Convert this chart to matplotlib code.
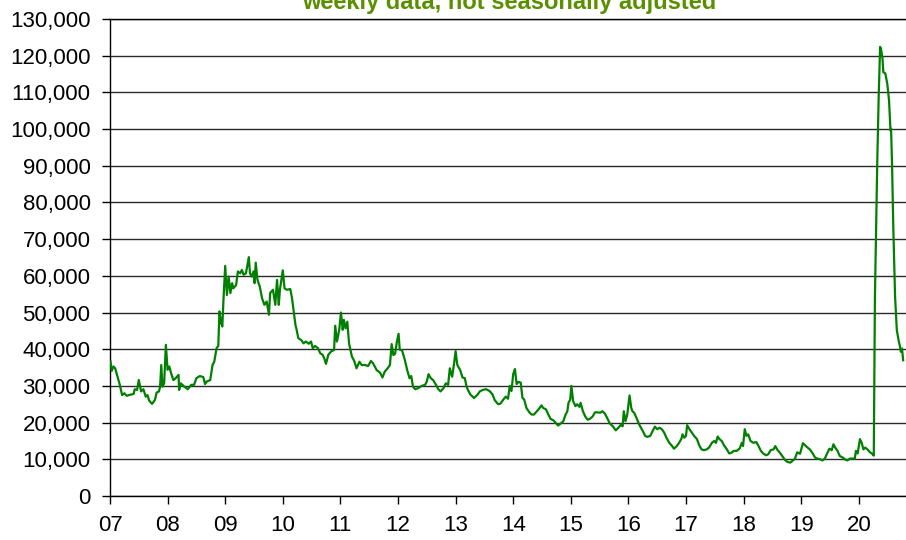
import matplotlib
matplotlib.use("Agg")
import matplotlib.pyplot as plt

rcParams = {'font.size': 16,
            'font.family': 'sans-serif',
            'font.sans-serif': ['Liberation Sans', 'DejaVu Sans'],
            'axes.unicode_minus': False,
            }

# position of each reading in decimal years, value in thousands of claims
weeks = [
    2007.01, 2007.03, 2007.06, 2007.09, 2007.13, 2007.17, 2007.21, 2007.25, 2007.29, 2007.35,
    2007.41, 2007.43, 2007.47, 2007.50, 2007.54, 2007.58, 2007.62, 2007.65, 2007.68, 2007.73,
    2007.78, 2007.81, 2007.85, 2007.87, 2007.89, 2007.91, 2007.94, 2007.97, 2008.00, 2008.03,
    2008.06, 2008.10, 2008.14, 2008.19, 2008.20, 2008.23, 2008.29, 2008.35, 2008.41, 2008.46,
    2008.50, 2008.56, 2008.62, 2008.65, 2008.68, 2008.74, 2008.78, 2008.81, 2008.85, 2008.88,
    2008.90, 2008.93, 2008.95, 2008.97, 2009.00,
    2009.03, 2009.06, 2009.09, 2009.12, 2009.14, 2009.19, 2009.22, 2009.26, 2009.29, 2009.32,
    2009.36, 2009.41, 2009.43, 2009.46, 2009.49, 2009.51, 2009.53, 2009.56, 2009.60, 2009.64,
    2009.68, 2009.72, 2009.76, 2009.78, 2009.83, 2009.87, 2009.90, 2009.93, 2009.95, 2010.00,
    2010.03, 2010.07, 2010.13, 2010.16, 2010.19, 2010.22, 2010.24, 2010.27, 2010.32, 2010.36,
    2010.40, 2010.45, 2010.49, 2010.52, 2010.56, 2010.61, 2010.65, 2010.69, 2010.72, 2010.75,
    2010.79, 2010.84, 2010.89, 2010.91, 2010.94, 2010.98, 2011.01, 2011.04, 2011.06, 2011.09,
    2011.12, 2011.15,
    2011.20, 2011.24, 2011.28, 2011.33, 2011.37, 2011.43, 2011.48, 2011.53, 2011.57, 2011.63,
    2011.69, 2011.73, 2011.77, 2011.82, 2011.86, 2011.89, 2011.92, 2011.95, 2011.98, 2012.01,
    2012.03, 2012.07, 2012.12, 2012.16, 2012.20, 2012.23, 2012.26, 2012.30, 2012.35, 2012.41,
    2012.47, 2012.50, 2012.53, 2012.57, 2012.61, 2012.66, 2012.70, 2012.74, 2012.79, 2012.83,
    2012.87, 2012.90, 2012.94, 2012.97, 2013.00, 2013.03, 2013.08, 2013.12, 2013.16, 2013.19,
    2013.22, 2013.26, 2013.32, 2013.38, 2013.42, 2013.47, 2013.53, 2013.59,
    2013.64, 2013.68, 2013.74, 2013.78, 2013.83, 2013.87, 2013.91, 2013.94, 2013.97, 2014.00,
    2014.03, 2014.06, 2014.09, 2014.13, 2014.16, 2014.19, 2014.23, 2014.28, 2014.32, 2014.36,
    2014.41, 2014.45, 2014.49, 2014.52, 2014.57, 2014.61, 2014.65, 2014.70, 2014.74, 2014.78,
    2014.82, 2014.87, 2014.91, 2014.94, 2014.96, 2014.99, 2015.01, 2015.04, 2015.08, 2015.11,
    2015.15, 2015.17, 2015.21, 2015.25, 2015.29, 2015.33, 2015.38, 2015.42, 2015.46, 2015.51,
    2015.55, 2015.59, 2015.63, 2015.68, 2015.73, 2015.78, 2015.82, 2015.87, 2015.90, 2015.92,
    2015.95, 2015.98, 2016.02, 2016.05, 2016.07, 2016.10, 2016.14, 2016.19,
    2016.25, 2016.29, 2016.33, 2016.38, 2016.42, 2016.46, 2016.50, 2016.54, 2016.58, 2016.62,
    2016.66, 2016.71, 2016.76, 2016.79, 2016.84, 2016.88, 2016.92, 2016.94, 2016.97, 2017.00,
    2017.02, 2017.06, 2017.10, 2017.14, 2017.19, 2017.23, 2017.27, 2017.31, 2017.36, 2017.40,
    2017.45, 2017.49, 2017.52, 2017.55, 2017.58, 2017.62, 2017.66, 2017.71, 2017.75, 2017.79,
    2017.83, 2017.88, 2017.93, 2017.97, 2017.99, 2018.02, 2018.05, 2018.08, 2018.12, 2018.17,
    2018.22, 2018.26, 2018.30, 2018.34, 2018.39, 2018.43, 2018.47, 2018.52, 2018.55, 2018.59,
    2018.63, 2018.68, 2018.72, 2018.76, 2018.81,
    2018.85, 2018.89, 2018.93, 2018.98, 2019.03, 2019.07, 2019.11, 2019.15, 2019.20, 2019.24,
    2019.28, 2019.33, 2019.37, 2019.41, 2019.45, 2019.49, 2019.53, 2019.56, 2019.59, 2019.63,
    2019.67, 2019.72, 2019.76, 2019.80, 2019.85, 2019.89, 2019.93, 2019.95, 2019.98, 2020.02,
    2020.05, 2020.08, 2020.11, 2020.15, 2020.19, 2020.24, 2020.26,
    2020.28, 2020.30, 2020.32, 2020.345, 2020.37, 2020.385, 2020.41, 2020.426, 2020.46, 2020.495,
    2020.525, 2020.55, 2020.56, 2020.577, 2020.60, 2020.63, 2020.66, 2020.69, 2020.715, 2020.73,
    2020.75, 2020.77,
]

claims_k = [
    36.6, 34.1, 35.3, 34.8, 32.5, 30.3, 27.5, 28.0, 27.3, 27.6,
    27.8, 29.1, 28.9, 31.6, 28.5, 29.1, 27.1, 27.5, 26.0, 25.1,
    26.2, 28.2, 28.5, 29.8, 35.7, 29.8, 30.7, 41.2, 34.4, 35.3,
    33.5, 31.6, 32.1, 33.0, 28.9, 30.7, 29.8, 29.1, 30.3, 30.3,
    32.1, 32.7, 32.4, 30.5, 31.2, 31.6, 35.7, 36.6, 40.3, 40.9,
    50.3, 47.1, 46.2, 53.5, 62.7,
    54.8, 59.8, 55.3, 58.0, 56.6, 57.5, 61.2, 60.7, 61.6, 60.3,
    60.7, 65.1, 60.7, 59.8, 61.2, 58.0, 63.6, 58.9, 57.1, 53.9,
    52.1, 53.0, 49.4, 55.3, 56.2, 52.1, 58.9, 52.1, 56.2, 61.5,
    56.6, 56.2, 56.4, 53.9, 50.3, 46.6, 45.3, 43.0, 42.5, 41.6,
    42.1, 41.5, 42.1, 40.3, 40.9, 40.3, 38.9, 38.5, 37.5, 36.0,
    38.5, 39.4, 39.8, 46.4, 42.1, 45.3, 50.0, 45.3, 48.0, 45.7,
    47.5, 41.6,
    38.0, 36.8, 34.8, 36.6, 35.7, 35.7, 35.4, 36.8, 36.1, 34.3,
    33.6, 32.3, 33.9, 34.8, 35.7, 41.4, 38.4, 38.8, 42.0, 44.2,
    39.9, 39.7, 37.0, 34.3, 32.1, 32.7, 29.8, 29.1, 29.4, 30.0,
    30.3, 31.2, 33.2, 32.1, 31.6, 30.3, 29.1, 28.5, 29.4, 30.7,
    30.3, 34.8, 32.5, 35.7, 39.5, 35.7, 34.3, 32.3, 32.1, 29.8,
    28.7, 27.6, 26.7, 27.6, 28.5, 28.9, 29.1, 28.6,
    27.7, 26.1, 25.0, 25.2, 26.3, 27.1, 26.5, 30.0, 28.6, 33.2,
    34.6, 30.5, 31.1, 30.9, 26.8, 26.3, 24.0, 22.8, 22.2, 22.2,
    23.1, 23.8, 24.7, 24.0, 23.6, 22.2, 21.0, 20.6, 19.9, 19.2,
    19.7, 20.4, 22.2, 23.1, 25.4, 26.3, 30.0, 25.9, 24.5, 25.0,
    24.3, 25.4, 23.1, 21.7, 20.8, 21.0, 21.7, 22.8, 22.8, 22.7,
    23.1, 22.5, 21.3, 19.7, 19.0, 17.9, 18.5, 19.4, 19.0, 23.1,
    20.4, 22.2, 27.4, 24.0, 23.1, 22.7, 21.3, 19.4,
    17.7, 16.4, 16.1, 16.4, 17.7, 18.9, 18.2, 18.6, 18.2, 17.3,
    15.9, 14.5, 13.6, 12.9, 13.6, 14.5, 15.6, 16.8, 15.9, 16.4,
    19.3, 18.2, 17.3, 16.4, 15.5, 13.8, 12.7, 12.5, 12.7, 13.2,
    14.5, 15.0, 14.5, 16.2, 15.5, 15.0, 13.8, 12.7, 11.6, 11.8,
    12.3, 12.3, 12.9, 14.5, 13.6, 18.2, 16.4, 16.8, 15.0, 14.5,
    14.7, 13.6, 12.3, 11.6, 11.1, 11.4, 12.5, 12.7, 13.6, 12.5,
    11.8, 10.7, 9.8, 9.3, 9.1,
    9.6, 10.1, 11.9, 11.5, 14.4, 13.8, 13.2, 12.7, 11.6, 10.5,
    10.2, 10.0, 9.7, 10.2, 11.6, 12.9, 12.5, 14.1, 13.2, 12.3,
    10.9, 10.5, 10.0, 9.7, 10.2, 10.2, 10.2, 12.3, 11.6, 15.5,
    14.5, 12.7, 13.2, 12.7, 12.0, 11.4, 11.0,
    54.3, 72.4, 90.5, 108.7, 122.4, 121.8, 119.5, 115.5, 115.2, 112.3,
    107.8, 99.6, 100.1, 90.5, 72.4, 54.3, 45.2, 42.5, 40.7, 39.3,
    40.2, 37.0,
]

year_ticks = list(range(2007, 2021))
year_labels = ['07', '08', '09', '10', '11', '12', '13', '14', '15', '16', '17', '18', '19', '20']
y_ticks = list(range(0, 130001, 10000))

title = "weekly data, not seasonally adjusted"


def claims_plot():
    plt.rcParams.update(rcParams)
    fig = plt.figure(figsize=(9.06, 5.40), dpi=100)
    ax = fig.add_axes([110 / 906, 44 / 540, 796 / 906, 477 / 540])

    ax.plot(weeks, [v * 1000 for v in claims_k], color='#008000', linewidth=1.6, zorder=3)

    ax.set_xlim(2007, 2007 + 796 / 57.6)
    ax.set_ylim(0, 130000)
    ax.set_xticks(year_ticks)
    ax.set_xticklabels(year_labels)
    ax.set_yticks(y_ticks)
    ax.yaxis.set_major_formatter(plt.FuncFormatter(lambda x, p: '{:,.0f}'.format(x)))
    ax.tick_params(axis='x', length=6, width=1, direction='out', pad=8)
    ax.tick_params(axis='y', length=6, width=1, direction='out', pad=8)

    ax.grid(True, axis='y', color='#2a2a2a', linewidth=1.0)
    ax.set_axisbelow(True)
    for side in ['left', 'bottom', 'top']:
        ax.spines[side].set_color('black')
        ax.spines[side].set_linewidth(1.0)
    ax.spines['right'].set_visible(False)

    # the title sits partly above the top edge, as in the source chart
    fig.text(509 / 906, 1 - 9.5 / 540, title, ha='center', va='baseline',
             fontsize=17, fontweight='bold', color='#5a8f00')

    fig.savefig("out.png", dpi=100)


if __name__ == '__main__':
    claims_plot()
